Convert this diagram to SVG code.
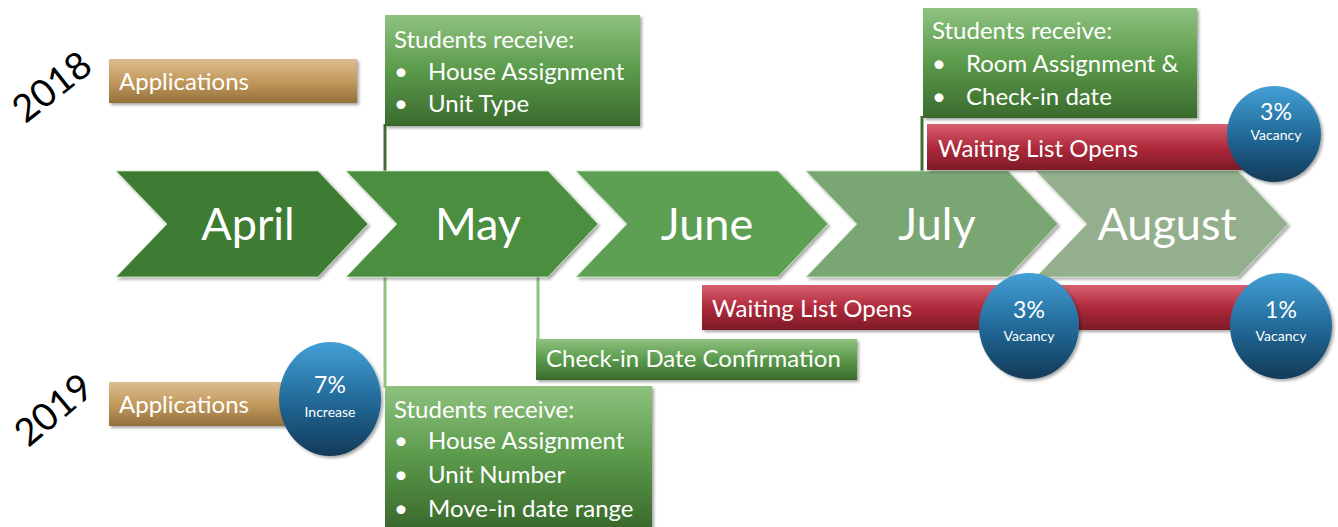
<svg xmlns="http://www.w3.org/2000/svg" width="1338" height="527" viewBox="0 0 1338 527">
  <defs>
    <linearGradient id="gGreen" x1="0" y1="0" x2="0" y2="1">
      <stop offset="0" stop-color="#8ec27f"/>
      <stop offset="0.5" stop-color="#5b9a4b"/>
      <stop offset="1" stop-color="#3a6a2d"/>
    </linearGradient>
    <linearGradient id="gTan" x1="0" y1="0" x2="0" y2="1">
      <stop offset="0" stop-color="#dbbd91"/>
      <stop offset="0.5" stop-color="#c39a5d"/>
      <stop offset="1" stop-color="#94703c"/>
    </linearGradient>
    <linearGradient id="gRed" x1="0" y1="0" x2="0" y2="1">
      <stop offset="0" stop-color="#d8606f"/>
      <stop offset="0.5" stop-color="#b02a3c"/>
      <stop offset="1" stop-color="#7c1a26"/>
    </linearGradient>
    <linearGradient id="gBlue" x1="0" y1="0" x2="0" y2="1">
      <stop offset="0" stop-color="#44a0d6"/>
      <stop offset="0.5" stop-color="#226b9a"/>
      <stop offset="1" stop-color="#123a58"/>
    </linearGradient>
    <filter id="shadow" x="-10%" y="-10%" width="120%" height="130%">
      <feDropShadow dx="2" dy="2" stdDeviation="1.5" flood-color="#000" flood-opacity="0.35"/>
    </filter>
    <path id="chev" d="M0,0 L202,0 L252,53 L202,106 L0,106 L51,53 Z"/>
  </defs>
  <style>
    text { font-family: Lato, "Liberation Sans", sans-serif; fill: #ffffff; }
    .year { fill: #000000; font-size: 38px; }
    .month { font-size: 45px; text-anchor: middle; }
    .lbl { font-size: 24px; }
    .pct { font-size: 23px; text-anchor: middle; }
    .sub { font-size: 14px; text-anchor: middle; }
    .chev { stroke: #c9e3c2; stroke-width: 0.8; filter: url(#shadow); }
    .box { filter: url(#shadow); }
    .darkline { stroke: #3e6e30; stroke-width: 3; fill: none; }
    .lightline { stroke: #8ec27f; stroke-width: 3; fill: none; }
  </style>

  <rect width="1338" height="527" fill="#ffffff"/>

  <!-- year labels -->
  <g id="year-2018"><text class="year" transform="translate(60,97) rotate(-38)" text-anchor="middle">2018</text></g>
  <g id="year-2019"><text class="year" transform="translate(62,420) rotate(-40)" text-anchor="middle">2019</text></g>

  <!-- connectors -->
  <g id="connectors">
    <line class="darkline" x1="385" y1="124" x2="385" y2="172"/>
    <line class="darkline" x1="922" y1="116" x2="922" y2="172"/>
    <line class="lightline" x1="385" y1="276" x2="385" y2="388"/>
    <line class="lightline" x1="538" y1="276" x2="538" y2="341"/>
  </g>

  <!-- month chevrons -->
  <g id="april"><use href="#chev" class="chev" x="116" y="171" fill="#3c7c33"/><text class="month" x="248" y="240">April</text></g>
  <g id="may"><use href="#chev" class="chev" x="346" y="171" fill="#4b8e41"/><text class="month" x="478" y="240">May</text></g>
  <g id="june"><use href="#chev" class="chev" x="576" y="171" fill="#5d9f52"/><text class="month" x="707" y="240">June</text></g>
  <g id="july"><use href="#chev" class="chev" x="806" y="171" fill="#79a672"/><text class="month" x="937" y="240">July</text></g>
  <g id="august"><use href="#chev" class="chev" x="1036" y="171" fill="#94af8d"/><text class="month" x="1167" y="240">August</text></g>

  <!-- 2018 applications -->
  <g id="apps-2018">
    <rect class="box" x="109" y="59" width="248" height="44" fill="url(#gTan)"/>
    <text class="lbl" x="119" y="90">Applications</text>
  </g>

  <!-- 2018 May: students receive -->
  <g id="may-2018">
    <rect class="box" x="385" y="15" width="255" height="111" fill="url(#gGreen)"/>
    <text class="lbl" x="394" y="48">Students receive:</text>
    <text class="lbl" x="394" y="80">•</text><text class="lbl" x="428" y="80">House Assignment</text>
    <text class="lbl" x="394" y="112">•</text><text class="lbl" x="428" y="112">Unit Type</text>
  </g>

  <!-- 2018 July: students receive -->
  <g id="july-2018">
    <rect class="box" x="923" y="8" width="274" height="110" fill="url(#gGreen)"/>
    <text class="lbl" x="932" y="39">Students receive:</text>
    <text class="lbl" x="932" y="72">•</text><text class="lbl" x="966" y="72">Room Assignment &amp;</text>
    <text class="lbl" x="932" y="105">•</text><text class="lbl" x="966" y="105">Check-in date</text>
  </g>

  <!-- 2018 waiting list -->
  <g id="waitlist-2018">
    <rect class="box" x="927" y="124" width="318" height="46" fill="url(#gRed)"/>
    <text class="lbl" x="938" y="157">Waiting List Opens</text>
  </g>
  <g id="vacancy-2018">
    <ellipse class="box" cx="1274" cy="134" rx="47" ry="48" fill="url(#gBlue)"/>
    <text class="pct" x="1276" y="120">3%</text>
    <text class="sub" x="1276" y="140">Vacancy</text>
  </g>

  <!-- 2019 waiting list -->
  <g id="waitlist-2019">
    <rect class="box" x="702" y="285" width="560" height="45" fill="url(#gRed)"/>
    <text class="lbl" x="712" y="317">Waiting List Opens</text>
  </g>
  <g id="vacancy-july-2019">
    <ellipse class="box" cx="1029" cy="326" rx="50" ry="53" fill="url(#gBlue)"/>
    <text class="pct" x="1029" y="318">3%</text>
    <text class="sub" x="1029" y="341">Vacancy</text>
  </g>
  <g id="vacancy-aug-2019">
    <ellipse class="box" cx="1281" cy="326" rx="51" ry="53" fill="url(#gBlue)"/>
    <text class="pct" x="1281" y="318">1%</text>
    <text class="sub" x="1281" y="341">Vacancy</text>
  </g>

  <!-- 2019 check-in confirmation -->
  <g id="checkin-2019">
    <rect class="box" x="536" y="339" width="321" height="41" fill="url(#gGreen)"/>
    <text class="lbl" x="546" y="367">Check-in Date Confirmation</text>
  </g>

  <!-- 2019 applications -->
  <g id="apps-2019">
    <rect class="box" x="109" y="382" width="200" height="44" fill="url(#gTan)"/>
    <text class="lbl" x="119" y="413">Applications</text>
  </g>
  <g id="increase-2019">
    <ellipse class="box" cx="330" cy="399" rx="51" ry="57" fill="url(#gBlue)"/>
    <text class="pct" x="330" y="393">7%</text>
    <text class="sub" x="330" y="417">Increase</text>
  </g>

  <!-- 2019 May: students receive -->
  <g id="may-2019">
    <rect class="box" x="385" y="386" width="267" height="141" fill="url(#gGreen)"/>
    <text class="lbl" x="394" y="418">Students receive:</text>
    <text class="lbl" x="394" y="449">•</text><text class="lbl" x="428" y="449">House Assignment</text>
    <text class="lbl" x="394" y="483">•</text><text class="lbl" x="428" y="483">Unit Number</text>
    <text class="lbl" x="394" y="517">•</text><text class="lbl" x="428" y="517">Move-in date range</text>
  </g>
</svg>
